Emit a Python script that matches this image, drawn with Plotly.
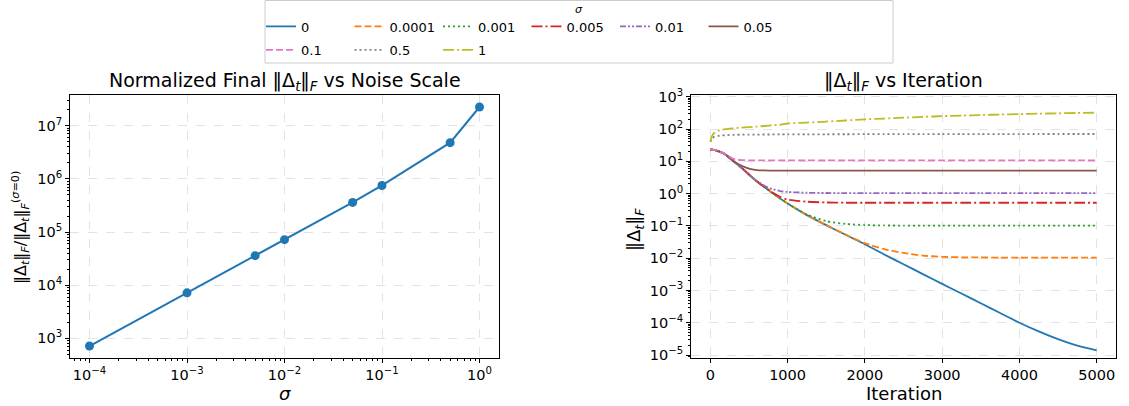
import plotly.graph_objects as go

# ---------------- data ----------------
SIGMA_POINTS = [1e-4, 1e-3, 5e-3, 1e-2, 5e-2, 1e-1, 5e-1, 1.0]
NORM_FINAL = [718, 7190, 36000, 72000, 361000, 752000, 4.8e6, 2.25e7]

SIGMA_LABELS = ["0", "0.0001", "0.001", "0.005", "0.01", "0.05", "0.1", "0.5", "1"]

ITER = [0, 25, 50, 100, 150, 200, 300, 400, 500, 600, 700, 800, 900, 1000,
        1250, 1500, 1750, 2000, 2250, 2500, 2750, 3000, 3250, 3500, 3750,
        4000, 4250, 4500, 4750, 5000]

S_0 = [23, 22.8, 22.4, 20.5, 18.5, 16, 10, 6.4, 3.9, 2.4, 1.6, 1.05, 0.71, 0.49,
       0.215, 0.105, 0.053, 0.027, 0.013, 0.0065, 0.0032, 0.0016, 0.0008, 0.0004, 0.0002,
       1.0e-4, 5.4e-5, 3.1e-5, 1.95e-5, 1.4e-5]
S_1e4 = [23, 22.8, 22.4, 20.5, 18.5, 16, 10, 6.4, 3.9, 2.4, 1.6, 1.05, 0.71, 0.49,
         0.215, 0.105, 0.054, 0.029, 0.019, 0.0145, 0.012, 0.011, 0.0106, 0.0105, 0.0104,
         0.0104, 0.0104, 0.0104, 0.0104, 0.0104]
S_1e3 = [23, 22.8, 22.4, 20.5, 18.5, 16, 10, 6.4, 3.9, 2.4, 1.6, 1.05, 0.71, 0.49,
         0.225, 0.14, 0.115, 0.106, 0.103, 0.102, 0.101, 0.101, 0.101, 0.101, 0.101,
         0.101, 0.101, 0.101, 0.101, 0.101]
S_5e3 = [23, 22.8, 22.4, 20.5, 18.5, 16, 10, 6.4, 3.9, 2.4, 1.6, 1.1, 0.8, 0.65,
         0.56, 0.53, 0.52, 0.52, 0.52, 0.52, 0.52, 0.52, 0.52, 0.52, 0.52,
         0.52, 0.52, 0.52, 0.52, 0.52]
S_1e2 = [23, 22.8, 22.4, 20.5, 18.5, 16, 10, 6.4, 3.9, 2.5, 1.75, 1.38, 1.2, 1.12,
         1.06, 1.04, 1.03, 1.03, 1.03, 1.03, 1.03, 1.03, 1.03, 1.03, 1.03,
         1.03, 1.03, 1.03, 1.03, 1.03]
S_5e2 = [23, 22.8, 22.4, 20.5, 18.5, 16, 10.3, 7.4, 5.9, 5.35, 5.2, 5.15, 5.15, 5.15,
         5.15, 5.15, 5.15, 5.15, 5.15, 5.15, 5.15, 5.15, 5.15, 5.15, 5.15,
         5.15, 5.15, 5.15, 5.15, 5.15]
S_1e1 = [23, 22.8, 22.4, 20.5, 18.5, 16.2, 11.8, 10.9, 10.7, 10.6, 10.6, 10.6, 10.6, 10.6,
         10.6, 10.6, 10.6, 10.6, 10.6, 10.6, 10.6, 10.6, 10.6, 10.6, 10.6,
         10.6, 10.6, 10.6, 10.6, 10.6]
S_5e1 = [40, 52, 57, 61, 63, 64.5, 66, 66.5, 67, 67.3, 67.5, 67.7, 67.9, 68,
         68.3, 68.6, 68.8, 69, 69.2, 69.3, 69.4, 69.5, 69.6, 69.7, 69.8,
         69.8, 69.9, 69.9, 70, 70]
S_1 = [40, 62, 75, 88, 95, 99, 105, 110, 114, 119, 124, 130, 135, 148,
       158, 170, 183, 200, 211, 224, 237, 250, 260, 271, 281, 290, 298, 306, 314, 320]

SERIES = [S_0, S_1e4, S_1e3, S_5e3, S_1e2, S_5e2, S_1e1, S_5e1, S_1]

COLORS = ["#1f77b4", "#ff7f0e", "#2ca02c", "#d62728", "#9467bd",
          "#8c564b", "#e377c2", "#7f7f7f", "#bcbd22"]
DASHES = ["solid", "7px,3px", "2px,3px", "11px,3px,2px,3px", "6px,2px,2px,2px,2px,2px",
          "solid", "7px,3px", "2px,3px", "11px,3px,2px,3px"]

W, H = 1129, 406
FONT = "DejaVu Sans"


def px_x(p):
    return p / W


def px_y(p):
    return 1 - p / H


fig = go.Figure()

# left panel
fig.add_trace(go.Scatter(
    x=SIGMA_POINTS, y=NORM_FINAL, mode="lines+markers",
    line=dict(color="#1f77b4", width=2), marker=dict(size=9, color="#1f77b4"),
    showlegend=False, xaxis="x", yaxis="y"))

# right panel
for i, (lab, ys) in enumerate(zip(SIGMA_LABELS, SERIES)):
    fig.add_trace(go.Scatter(
        x=ITER, y=ys, mode="lines", name=lab,
        line=dict(color=COLORS[i], width=1.8, dash=DASHES[i], shape="spline", smoothing=0.6),
        legend="legend" if i < 6 else "legend2",
        xaxis="x2", yaxis="y2"))

minor_vals = [m * 10 ** k for k in range(-6, 9) for m in range(2, 10)]


def log_ticks(lo, hi):
    vals = [10.0 ** k for k in range(lo, hi + 1)]
    txt = [("10<sup>%s</sup>" % (str(k) if k >= 0 else "\u2212" + str(-k))) for k in range(lo, hi + 1)]
    return vals, txt


common = dict(showline=True, linecolor="black", linewidth=1, mirror=True,
              ticks="outside", ticklen=4, tickcolor="black",
              showgrid=True, gridcolor="#e3e3e3", griddash="dash", gridwidth=1,
              zeroline=False, tickfont=dict(family=FONT, size=14.5, color="black"))

lx_v, lx_t = log_ticks(-4, 0)
ly_v, ly_t = log_ticks(3, 7)
ry_v, ry_t = log_ticks(-5, 3)
minor = dict(tickmode="array", tickvals=minor_vals, ticks="outside", ticklen=2,
             tickcolor="black", showgrid=False)

legend_common = dict(orientation="h", xanchor="left", yanchor="top",
                     entrywidth=43.5, itemwidth=30, bgcolor="rgba(0,0,0,0)", borderwidth=0,
                     font=dict(family=FONT, size=13, color="black"), tracegroupgap=0)

fig.update_layout(
    width=W, height=H, margin=dict(l=0, r=0, t=0, b=0, autoexpand=False),
    paper_bgcolor="white", plot_bgcolor="white",
    font=dict(family=FONT, color="black"),
    xaxis=dict(domain=[px_x(70), px_x(499)], type="log", range=[-4.2, 0.2],
               tickmode="array", tickvals=lx_v, ticktext=lx_t, anchor="y",
               minor=minor, **common),
    yaxis=dict(domain=[px_y(358), px_y(95)], type="log", range=[2.631, 7.578],
               tickmode="array", tickvals=ly_v, ticktext=ly_t, anchor="x",
               minor=minor, **common),
    xaxis2=dict(domain=[px_x(691), px_x(1116)], range=[-250, 5250],
                tickmode="array", tickvals=[0, 1000, 2000, 3000, 4000, 5000],
                anchor="y2", **common),
    yaxis2=dict(domain=[px_y(358), px_y(95)], type="log", range=[-5.093, 3.053],
                tickmode="array", tickvals=ry_v, ticktext=ry_t, anchor="x2",
                minor=minor, **common),
    legend=dict(x=px_x(261), y=px_y(11.5), **legend_common),
    legend2=dict(x=px_x(261), y=px_y(35), **legend_common),
    shapes=[dict(type="rect", xref="paper", yref="paper",
                 x0=px_x(265), x1=px_x(893), y0=px_y(63), y1=px_y(0.5),
                 line=dict(color="#cccccc", width=1), fillcolor="white", layer="below")],
)

annotations = [
    dict(text="<i>σ</i>", x=px_x(579), y=px_y(9), font=dict(size=11)),
    dict(text="Normalized Final ‖Δ<sub><i>t</i></sub>‖<sub><i>F</i></sub> vs Noise Scale",
         x=px_x(284.5), y=px_y(81), font=dict(size=19)),
    dict(text="‖Δ<sub><i>t</i></sub>‖<sub><i>F</i></sub> vs Iteration",
         x=px_x(903.5), y=px_y(81), font=dict(size=19)),
    dict(text="<i>σ</i>", x=px_x(284.5), y=px_y(393), font=dict(size=18)),
    dict(text="Iteration", x=px_x(903.5), y=px_y(393), font=dict(size=18)),
    dict(text="‖Δ<sub><i>t</i></sub>‖<sub><i>F</i></sub>/‖Δ<sub><i>t</i></sub>‖<sub><i>F</i></sub><sup>(<i>σ</i>=0)</sup>",
         x=px_x(20), y=px_y(228), textangle=-90, font=dict(size=16)),
    dict(text="‖Δ<sub><i>t</i></sub>‖<sub><i>F</i></sub>",
         x=px_x(635), y=px_y(230), textangle=-90, font=dict(size=18)),
]
for a in annotations:
    a.update(xref="paper", yref="paper", showarrow=False, xanchor="center", yanchor="middle")
    a["font"].update(family=FONT, color="black")
    fig.add_annotation(**a)

PIN_PAGE = (
    "document.documentElement.style.margin='0';"
    "document.documentElement.style.overflow='hidden';"
    "document.body.style.margin='0';document.body.style.overflow='hidden';"
    "var gd=document.getElementsByClassName('plotly-graph-div')[0];"
    "gd.style.position='fixed';gd.style.left='0px';gd.style.top='0px';"
)

fig.write_html("out.html", config={"displayModeBar": False}, post_script=PIN_PAGE)
